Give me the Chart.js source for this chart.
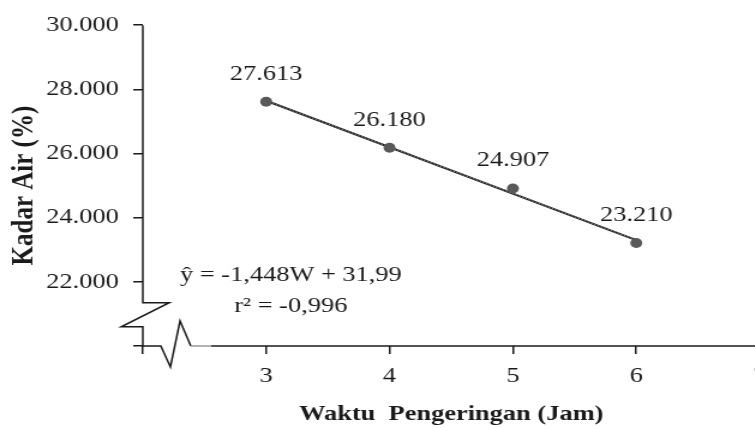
<!DOCTYPE html>
<html>
<head>
<meta charset="utf-8">
<script src="https://cdn.jsdelivr.net/npm/chart.js@4.4.0/dist/chart.umd.min.js"></script>
<style>
    html, body { margin: 0; padding: 0; background: #fff; overflow: hidden; }
    #wrap { width: 755px; height: 428px; overflow: hidden; }
</style>
</head>
<body>
<div id="wrap">
    <!-- drawn at 660px and shown 1.2x wider, like the stretched original -->
    <canvas id="chart" width="660" height="428" style="width:792px;height:428px"></canvas>
</div>
<script>
const waktu = [3, 4, 5, 6];
const kadarAir = [27.613, 26.180, 24.907, 23.210];

const xTickValues = [3, 4, 5, 6, 7];
const yTickValues = [22, 24, 26, 28, 30];

// trendline from the equation printed on the chart
const trendSlope = -1.448;
const trendIntercept = 31.99;
const trendX = [3, 6];

const equationLines = ["ŷ = -1,448W + 31,99", "r² = -0,996"];

Chart.defaults.font.family = "'Liberation Serif', 'Times New Roman', serif";
Chart.defaults.color = "#1a1a1a";

const axisBreakPlugin = {
    id: "axisBreak",
    afterDraw(chart) {
        const ctx = chart.ctx;
        const ys = chart.scales.y;
        const left = chart.chartArea.left;
        const bottom = chart.chartArea.bottom;
        const breakTop = ys.getPixelForValue(21.35);
        const breakLow = ys.getPixelForValue(20.6);

        ctx.save();
        ctx.lineWidth = 1.5;
        ctx.strokeStyle = "#1a1a1a";

        // y axis with its break
        ctx.beginPath();
        ctx.moveTo(left, ys.getPixelForValue(30));
        ctx.lineTo(left, breakTop);
        ctx.lineTo(left + 22, breakTop);
        ctx.lineTo(left - 18, breakLow);
        ctx.lineTo(left, breakLow);
        ctx.lineTo(left, bottom);
        ctx.stroke();

        // x axis with its break
        ctx.beginPath();
        ctx.moveTo(left, bottom);
        ctx.lineTo(left + 15, bottom);
        ctx.lineTo(left + 23, bottom + 21);
        ctx.lineTo(left + 31, bottom - 25);
        ctx.lineTo(left + 40, bottom);
        ctx.stroke();

        ctx.strokeStyle = "#999";
        ctx.beginPath();
        ctx.moveTo(left + 40, bottom);
        ctx.lineTo(left + 57, bottom);
        ctx.stroke();

        ctx.strokeStyle = "#1a1a1a";
        ctx.beginPath();
        ctx.moveTo(left + 57, bottom);
        ctx.lineTo(chart.width, bottom);
        ctx.stroke();
        ctx.restore();
    }
};

const pointLabelPlugin = {
    id: "pointLabels",
    afterDatasetsDraw(chart) {
        const ctx = chart.ctx;
        const meta = chart.getDatasetMeta(0);
        const xs = chart.scales.x;
        const ys = chart.scales.y;

        ctx.save();
        ctx.font = "22px 'Liberation Serif', serif";
        ctx.fillStyle = "#1a1a1a";
        ctx.textAlign = "center";
        ctx.textBaseline = "middle";
        meta.data.forEach((pt, i) => {
            ctx.fillText(kadarAir[i].toFixed(3), pt.x, pt.y - 28);
        });

        // regression equation
        const eqX = xs.getPixelForValue(3.2);
        ctx.fillText(equationLines[0], eqX, ys.getPixelForValue(22.22));
        ctx.fillText(equationLines[1], eqX, ys.getPixelForValue(21.25));
        ctx.restore();
    }
};

const trendPoints = trendX.map(w => ({ x: w, y: trendSlope * w + trendIntercept }));

const ctx = document.querySelector("#chart");
const data = {
    datasets: [{
        label: "Kadar Air",
        data: waktu.map((w, i) => ({ x: w, y: kadarAir[i] })),
        showLine: false,
        pointRadius: 5,
        pointBackgroundColor: "#595959",
        pointBorderColor: "#595959",
        pointBorderWidth: 0
    }, {
        label: "Trend dots",
        data: trendPoints,
        showLine: true,
        borderColor: "#9a9a9a",
        borderWidth: 1,
        borderDash: [1.5, 1.5],
        pointRadius: 0
    }, {
        label: "Trend",
        data: trendPoints,
        showLine: true,
        borderColor: "#1a1a1a",
        borderWidth: 2,
        pointRadius: 0
    }]
};

const options = {
    responsive: false,
    animation: false,
    events: [],
    layout: {
        padding: { top: 24, right: 27, bottom: 0, left: 0 }
    },
    plugins: {
        legend: { display: false },
        tooltip: { enabled: false }
    },
    scales: {
        x: {
            type: "linear",
            min: 2,
            max: 7,
            afterFit(scale) { scale.height = 82; },
            grid: { drawOnChartArea: false, tickLength: 8, color: "#1a1a1a", lineWidth: 1.5 },
            border: { display: false },
            ticks: {
                stepSize: 1,
                padding: 9,
                font: { size: 22 },
                callback: value => xTickValues.includes(value) ? String(value) : ""
            },
            title: {
                display: true,
                text: "Waktu  Pengeringan (Jam)",
                font: { size: 22, weight: "bold" },
                padding: { top: 0, bottom: 0 }
            }
        },
        y: {
            min: 20,
            max: 30,
            afterFit(scale) { scale.width = 119; },
            grid: { drawOnChartArea: false, tickLength: 8, color: "#1a1a1a", lineWidth: 1.5 },
            border: { display: false },
            ticks: {
                stepSize: 2,
                padding: 12,
                font: { size: 22 },
                callback: value => yTickValues.includes(value) ? value.toFixed(3) : ""
            },
            title: {
                display: true,
                text: "Kadar Air (%)",
                font: { size: 25, weight: "bold" },
                padding: { top: 6, bottom: 0 }
            }
        }
    }
};

new Chart(ctx, {
    type: "scatter",
    data: data,
    options: options,
    plugins: [axisBreakPlugin, pointLabelPlugin]
});
</script>
</body>
</html>
